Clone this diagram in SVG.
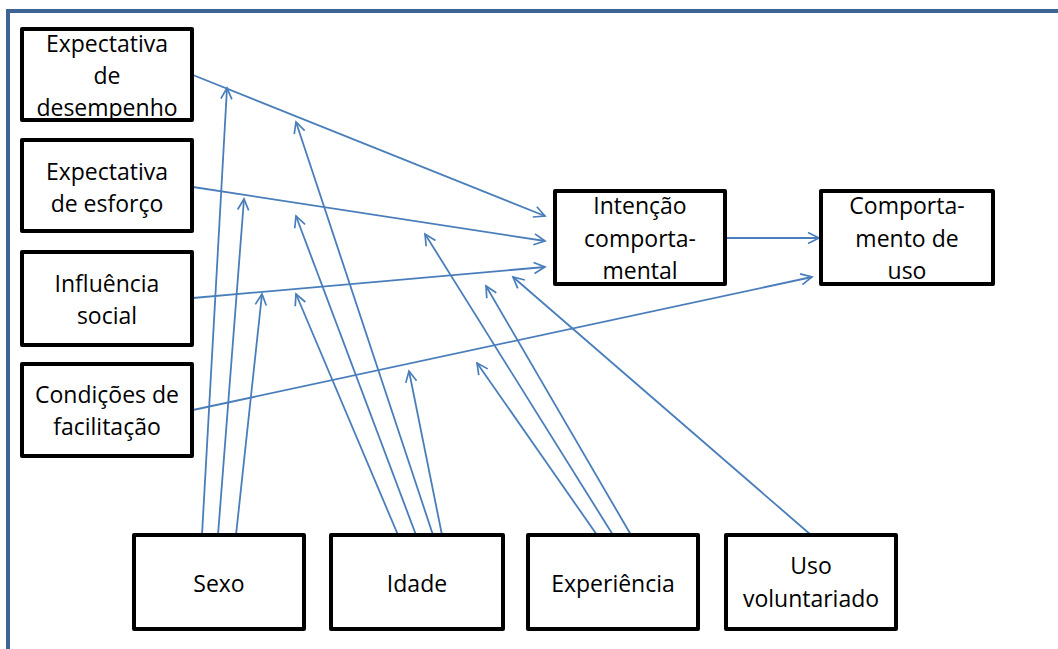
<svg xmlns="http://www.w3.org/2000/svg" width="1058" height="649" viewBox="0 0 1058 649">
<style>
.box{fill:#fff;stroke:#000;stroke-width:4;stroke-linejoin:round}
.lbl{font-family:"Open Sans","Liberation Sans",sans-serif;font-size:23px;font-weight:500;fill:#000;text-anchor:middle}
.c{fill:none;stroke:#4a7ebb;stroke-width:1.8;marker-end:url(#ah)}
.frame{fill:none;stroke:#3e6494;stroke-width:4}
</style>
<defs>
<marker id="ah" markerUnits="userSpaceOnUse" markerWidth="14" markerHeight="14" viewBox="0 0 14 14" refX="12" refY="7" orient="auto">
<path d="M1,1.5 L12,7 L1,12.5" fill="none" stroke="#4a7ebb" stroke-width="1.7"/>
</marker>
</defs>
<rect width="1058" height="649" fill="#fff"/>
<path class="frame" d="M8,649 V11 H1058"/>
<g id="connectors">
<line class="c" x1="193" y1="75" x2="545" y2="216"/>
<line class="c" x1="193" y1="187" x2="545" y2="241"/>
<line class="c" x1="193" y1="298" x2="545" y2="267"/>
<line class="c" x1="193" y1="410" x2="812" y2="277"/>
<line class="c" x1="725" y1="238" x2="819" y2="238"/>
<line class="c" x1="202" y1="535" x2="227" y2="88"/>
<line class="c" x1="218" y1="535" x2="244" y2="199"/>
<line class="c" x1="236" y1="535" x2="262" y2="294"/>
<line class="c" x1="398" y1="535" x2="296" y2="294"/>
<line class="c" x1="416" y1="535" x2="296" y2="216"/>
<line class="c" x1="433" y1="535" x2="296" y2="122"/>
<line class="c" x1="442" y1="535" x2="409" y2="371"/>
<line class="c" x1="597" y1="535" x2="477" y2="363"/>
<line class="c" x1="613" y1="535" x2="425" y2="234"/>
<line class="c" x1="631" y1="535" x2="486" y2="286"/>
<line class="c" x1="811" y1="535" x2="513" y2="277"/>
</g>
<g id="n-desempenho">
<rect class="box" x="22" y="29" width="170" height="91"/>
<text class="lbl"><tspan x="107" y="52">Expectativa</tspan><tspan x="107" y="84">de</tspan><tspan x="107" y="116">desempenho</tspan></text>
</g>
<g id="n-esforco">
<rect class="box" x="22" y="140" width="170" height="91"/>
<text class="lbl"><tspan x="107" y="180">Expectativa</tspan><tspan x="107" y="212">de esforço</tspan></text>
</g>
<g id="n-influencia">
<rect class="box" x="22" y="252" width="170" height="93"/>
<text class="lbl"><tspan x="107" y="292">Influência</tspan><tspan x="107" y="324">social</tspan></text>
</g>
<g id="n-condicoes">
<rect class="box" x="22" y="364" width="170" height="92"/>
<text class="lbl"><tspan x="107" y="403">Condições de</tspan><tspan x="107" y="435">facilitação</tspan></text>
</g>
<g id="n-intencao">
<rect class="box" x="555" y="191" width="170" height="93"/>
<text class="lbl"><tspan x="640" y="214">Intenção</tspan><tspan x="640" y="247">comporta-</tspan><tspan x="640" y="279">mental</tspan></text>
</g>
<g id="n-comportamento">
<rect class="box" x="821" y="191" width="172" height="93"/>
<text class="lbl"><tspan x="907" y="214">Comporta-</tspan><tspan x="907" y="247">mento de</tspan><tspan x="907" y="279">uso</tspan></text>
</g>
<g id="n-sexo">
<rect class="box" x="134" y="535" width="170" height="94"/>
<text class="lbl" x="219" y="592">Sexo</text>
</g>
<g id="n-idade">
<rect class="box" x="331" y="535" width="172" height="94"/>
<text class="lbl" x="417" y="592">Idade</text>
</g>
<g id="n-experiencia">
<rect class="box" x="528" y="535" width="170" height="94"/>
<text class="lbl" x="613" y="592">Experiência</text>
</g>
<g id="n-uso">
<rect class="box" x="726" y="535" width="170" height="94"/>
<text class="lbl"><tspan x="811" y="574">Uso</tspan><tspan x="811" y="607">voluntariado</tspan></text>
</g>
</svg>
